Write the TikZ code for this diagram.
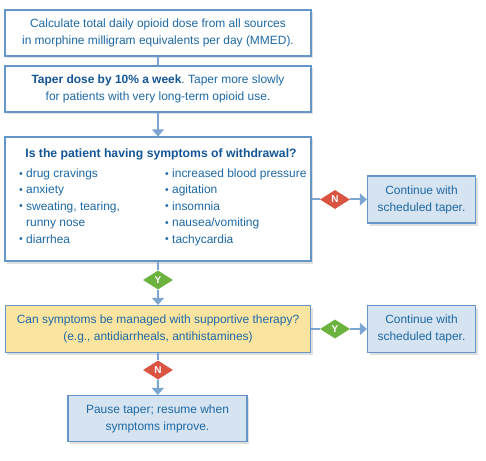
\documentclass[tikz,border=0pt]{standalone}
\usepackage{fontspec}
\setmainfont{Liberation Sans}
\frenchspacing
\usetikzlibrary{shapes.geometric,arrows.meta,shadows}
\definecolor{bord}{RGB}{100,150,200}
\definecolor{txt}{RGB}{30,105,165}
\definecolor{hdr}{RGB}{20,85,150}
\definecolor{lblue}{RGB}{214,227,241}
\definecolor{yel}{RGB}{250,228,160}
\definecolor{redd}{RGB}{217,85,66}
\definecolor{grn}{RGB}{108,178,62}
\definecolor{arr}{RGB}{125,165,210}
\tikzset{
  x=1bp, y=-1bp,
  box/.style={draw=bord, line width=1.2bp, fill=white, align=center, text=txt,
    font=\fontsize{12}{17}\selectfont, inner sep=0pt,
    drop shadow={shadow xshift=2bp, shadow yshift=-2.5bp, opacity=0.25}},
  dec/.style={diamond, draw=none, minimum width=30bp, minimum height=19bp, inner sep=0pt,
    text=white, font=\bfseries\fontsize{10}{10}\selectfont, aspect=1.6},
  conn/.style={draw=arr, line width=2bp},
  arrw/.style={conn, -{Triangle[width=12bp,length=7bp]}},
  itm/.style={align=left, anchor=north west, text=txt, inner sep=0pt,
    font=\fontsize{12}{16.5}\selectfont},
}
\newcommand{\bul}{\makebox[7bp][l]{\raisebox{0.3bp}{\fontsize{10.5}{10}\selectfont•}}}
\begin{document}
\begin{tikzpicture}
\useasboundingbox (0,0) rectangle (486,461);
\node[box, minimum width=306bp, minimum height=46bp] (b1) at (158,33)
  {Calculate total daily opioid dose from all sources\\in morphine milligram equivalents per day (MMED).};
\node[box, minimum width=306bp, minimum height=46bp] (b2) at (158,89)
  {\textbf{\color{hdr}Taper dose by 10\% a week}. Taper more slowly\\for patients with very long-term opioid use.};
\node[box, minimum width=306bp, minimum height=124bp] (b3) at (158,199) {};
\node[text=hdr, font=\bfseries\fontsize{12.25}{14}\selectfont, inner sep=0pt] (h3) at (161,154)
  {Is the patient having symptoms of withdrawal?};
\node[itm] (c1) at (19,168.5)
  {\bul drug cravings\\\bul anxiety\\\bul sweating, tearing,\\\hspace*{7bp}runny nose\\\bul diarrhea};
\node[itm] (c2) at (165,168.5)
  {\bul increased blood pressure\\\bul agitation\\\bul insomnia\\\bul nausea/vomiting\\\bul tachycardia};
\node[box, fill=yel, minimum width=305bp, minimum height=47bp] (b4) at (158,329)
  {Can symptoms be managed with supportive therapy?\\(e.g., antidiarrheals, antihistamines)};
\node[box, fill=lblue, minimum width=179bp, minimum height=46bp] (b5) at (157.5,418.5)
  {Pause taper; resume when\\symptoms improve.};
\node[box, fill=lblue, minimum width=108bp, minimum height=47bp] (r1) at (421.5,199.5)
  {Continue with\\scheduled taper.};
\node[box, fill=lblue, minimum width=108bp, minimum height=47bp] (r2) at (421.5,329)
  {Continue with\\scheduled taper.};
\node[dec, fill=grn] (dy1) at (158,280) {Y};
\node[dec, fill=redd] (dn1) at (335,199.5) {N};
\node[dec, fill=grn] (dy2) at (335,329) {Y};
\node[dec, fill=redd] (dn2) at (158,370) {N};
\draw[conn] (b1) -- (b2);
\draw[arrw] (b2) -- (b3);
\draw[conn] (b3) -- (dy1);
\draw[arrw] (dy1) -- (b4);
\draw[conn] (b3.east |- dn1) -- (dn1);
\draw[arrw] (dn1) -- (r1);
\draw[conn] (b4.east |- dy2) -- (dy2);
\draw[arrw] (dy2) -- (r2);
\draw[conn] (b4) -- (dn2);
\draw[arrw] (dn2) -- (b5);
\end{tikzpicture}
\end{document}
